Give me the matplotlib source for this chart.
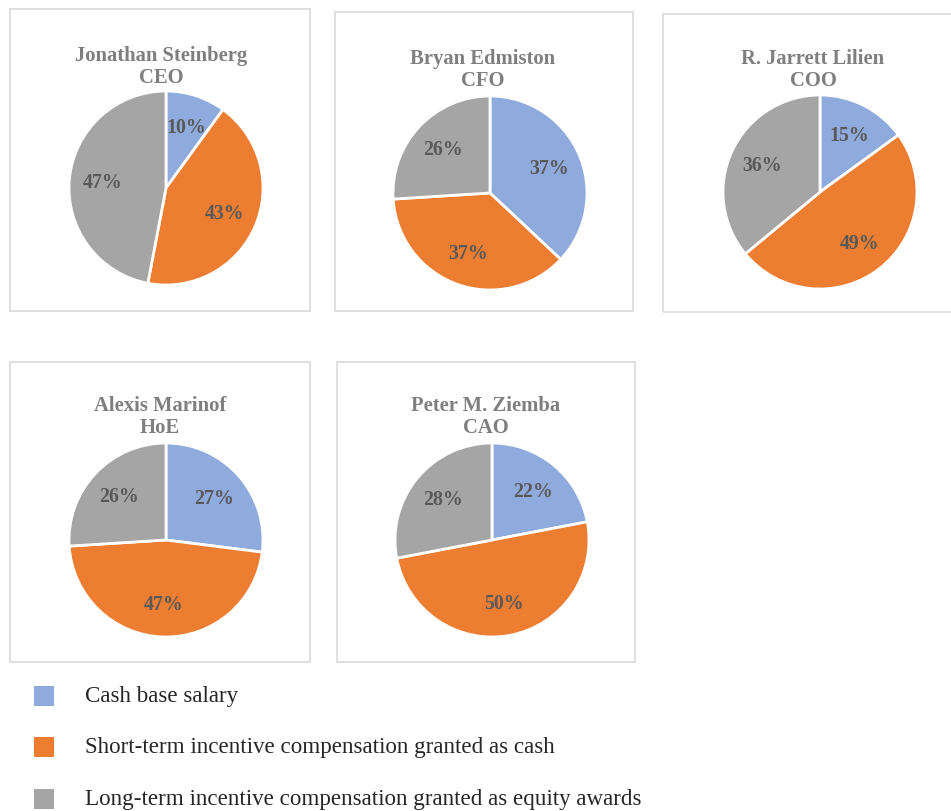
import matplotlib
matplotlib.use("Agg")
import matplotlib.pyplot as plt
from matplotlib.patches import Rectangle

# ---- data ----
categories = ["Cash base salary",
              "Short-term incentive compensation granted as cash",
              "Long-term incentive compensation granted as equity awards"]
names = ["Jonathan Steinberg", "Bryan Edmiston", "R. Jarrett Lilien",
         "Alexis Marinof", "Peter M. Ziemba"]
roles = ["CEO", "CFO", "COO", "HoE", "CAO"]
cash_base = [10, 37, 15, 27, 22]
short_term = [43, 37, 49, 47, 50]
long_term = [47, 26, 36, 26, 28]

colors = ["#8FAADC", "#ED7D31", "#A5A5A5"]

W, H = 951, 812
fig = plt.figure(figsize=(W / 100, H / 100), dpi=100)
fig.patch.set_facecolor("white")

def fx(px):
    return px / W

def fy(py):
    return 1 - py / H

# layout (pixels): box (x0, y0, x1, y1), pie centre (cx, cy), radius, title centre
boxes = [(10, 10, 310, 312), (335, 13, 633, 312), (663, 15, 956, 313),
         (10, 363, 310, 663), (337, 363, 635, 663)]
centres = [(166, 189), (490, 194), (820, 193), (166, 541), (492, 541)]
title_pos = [(161, 67), (483, 70), (813, 70), (160, 417), (486, 417)]
radius = 97

serif = ["Liberation Serif", "DejaVu Serif"]

for i in range(len(names)):
    x0, y0, x1, y1 = boxes[i]
    fig.patches.append(Rectangle((fx(x0), fy(y1)), fx(x1 - x0), (y1 - y0) / H,
                                 transform=fig.transFigure, fill=False,
                                 edgecolor="#D9D9D9", linewidth=1.2, zorder=0))
    cx, cy = centres[i]
    ax = fig.add_axes([fx(cx - radius), fy(cy + radius), fx(2 * radius), 2 * radius / H])
    vals = [cash_base[i], short_term[i], long_term[i]]
    wedges, texts, autotexts = ax.pie(
        vals, colors=colors, startangle=90, counterclock=False, radius=1,
        autopct=lambda p: f"{p:.0f}%", pctdistance=0.66,
        wedgeprops=dict(edgecolor="white", linewidth=2),
        textprops=dict(fontsize=14.3, fontweight="bold", color="#595959", family=serif))
    ax.set_xlim(-1, 1)
    ax.set_ylim(-1, 1)
    ax.set_aspect("equal")
    ax.axis("off")
    tx, ty = title_pos[i]
    fig.text(fx(tx), fy(ty), f"{names[i]}\n{roles[i]}", ha="center", va="center",
             fontsize=14.9, fontweight="bold", color="#7F7F7F", family=serif,
             linespacing=1.1)

# legend
leg_y = [697, 748, 800]
for k, cat in enumerate(categories):
    fig.patches.append(Rectangle((fx(34), fy(leg_y[k] + 10)), fx(20), 20 / H,
                                 transform=fig.transFigure, facecolor=colors[k],
                                 edgecolor="none"))
    fig.text(fx(85), fy(leg_y[k]), cat, ha="left", va="center", fontsize=16.6,
             color="#262626", family=serif)

fig.savefig("out.png", dpi=100, facecolor="white")
